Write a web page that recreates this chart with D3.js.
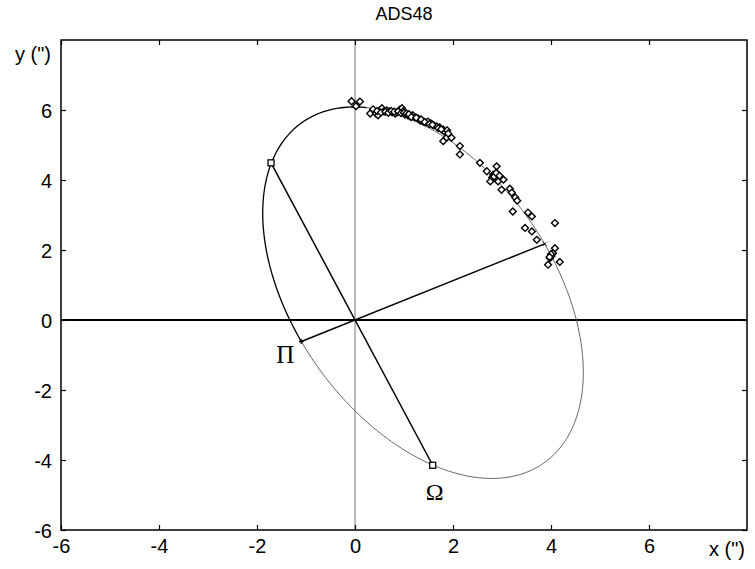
<!DOCTYPE html>
<html><head><meta charset="utf-8">
<script src="https://cdn.jsdelivr.net/npm/d3@7/dist/d3.min.js"></script>
<style>
html,body{margin:0;padding:0;background:#fff;}
svg text{font-family:"Liberation Sans",Arial,sans-serif;fill:#000;}
</style></head>
<body>
<svg id="chart" width="755" height="569"></svg>
<script>
const title = "ADS48";
const xTicks = [-6, -4, -2, 0, 2, 4, 6];
const yTicks = [-6, -4, -2, 0, 2, 4, 6];
const xDomain = [-6, 8];
const yDomain = [-6, 8];
// orbit: position = uVec*(cosE - ecc) + vVec*sinE (relative to primary at origin)
const ecc = 0.559;
const uVec = [-2.483, -1.395];
const vVec = [-2.13, 5.12];
// ascending / descending node points
const nodeX = [-1.714, 1.586];
const nodeY = [4.49, -4.15];
// observations
const obsX = [-0.07,0.10,0.02,0.31,0.37,0.43,0.47,0.51,0.55,0.59,0.65,0.71,0.76,0.82,0.86,0.92,0.96,0.98,1.02,1.08,1.12,1.18,1.22,1.29,1.33,1.39,1.45,1.49,1.55,1.61,1.67,1.73,1.80,1.84,1.88,1.87,1.80,1.97,1.90,2.14,2.14,2.55,2.69,2.89,2.82,2.86,2.90,2.80,2.76,2.92,3.03,2.99,3.16,3.20,3.27,3.31,3.22,3.53,3.61,4.08,3.47,3.61,3.71,4.08,4.04,4.01,3.98,3.94,4.18,
  0.45,0.53,0.62,0.68,0.74,0.80,0.88,0.94,1.00,1.05,1.10,1.15,1.25,1.35,1.42,1.52,1.58,1.70,1.76,2.84,2.88,2.95,4.00,3.97];
const obsY = [6.25,6.24,6.11,5.90,6.02,5.90,5.85,5.99,6.05,5.96,5.99,5.96,5.93,5.90,5.93,6.02,6.05,5.96,5.87,5.85,5.82,5.85,5.79,5.76,5.70,5.67,5.64,5.67,5.62,5.56,5.53,5.50,5.44,5.36,5.42,5.21,5.11,5.21,5.33,4.97,4.73,4.49,4.25,4.39,4.15,4.13,4.18,4.07,3.96,3.96,4.01,3.72,3.75,3.64,3.50,3.41,3.10,3.07,2.96,2.77,2.63,2.53,2.29,2.05,1.91,1.83,1.77,1.58,1.66,
  5.97,5.93,5.95,5.92,5.97,5.95,5.96,5.91,5.92,5.90,5.88,5.80,5.78,5.73,5.66,5.60,5.58,5.48,5.45,4.10,4.20,4.12,1.88,1.80];

const svg = d3.select("#chart");
const x = d3.scaleLinear().domain(xDomain).range([61, 747]);
const y = d3.scaleLinear().domain(yDomain).range([530, 40]);

function orbitPos(E){
  return [uVec[0]*(Math.cos(E)-ecc) + vVec[0]*Math.sin(E),
          uVec[1]*(Math.cos(E)-ecc) + vVec[1]*Math.sin(E)];
}

// zero lines
svg.append("line").attr("x1", x(0)).attr("x2", x(0)).attr("y1", y(yDomain[0])).attr("y2", y(yDomain[1]))
  .attr("stroke", "#777").attr("stroke-width", 1);
svg.append("line").attr("x1", x(xDomain[0])).attr("x2", x(xDomain[1])).attr("y1", y(0)).attr("y2", y(0))
  .attr("stroke", "#000").attr("stroke-width", 2);

// orbit ellipse
const line = d3.line().x(d => x(d[0])).y(d => y(d[1]));
const thinPts = d3.range(110, 361, 1).map(a => orbitPos(a * Math.PI / 180));
const thickPts = d3.range(0, 111, 1).map(a => orbitPos(a * Math.PI / 180));
svg.append("path").attr("d", line(thinPts)).attr("fill", "none").attr("stroke", "#555").attr("stroke-width", 0.9);
svg.append("path").attr("d", line(thickPts)).attr("fill", "none").attr("stroke", "#000").attr("stroke-width", 1.3);

// line of apsides and node line
const peri = orbitPos(0), apo = orbitPos(Math.PI);
svg.append("line").attr("x1", x(peri[0])).attr("y1", y(peri[1])).attr("x2", x(apo[0])).attr("y2", y(apo[1]))
  .attr("stroke", "#000").attr("stroke-width", 1.5);
svg.append("line").attr("x1", x(nodeX[0])).attr("y1", y(nodeY[0])).attr("x2", x(nodeX[1])).attr("y2", y(nodeY[1]))
  .attr("stroke", "#000").attr("stroke-width", 1.5);

// periastron tick & apastron cross
svg.append("path").attr("d", d3.symbol(d3.symbolCross, 12)()).attr("transform", `translate(${x(peri[0])},${y(peri[1])})`).attr("fill", "#000");
svg.append("path").attr("d", d3.symbol(d3.symbolTimes, 14)()).attr("transform", `translate(${x(apo[0])},${y(apo[1])})`).attr("fill", "none").attr("stroke", "#000").attr("stroke-width", 0.8);

// node squares
nodeX.forEach((nx, i) => {
  svg.append("rect").attr("x", x(nx) - 3).attr("y", y(nodeY[i]) - 3).attr("width", 6).attr("height", 6)
    .attr("fill", "#fff").attr("stroke", "#000").attr("stroke-width", 1.3);
});

// observations
const diamond = d3.symbol(d3.symbolDiamond2 || d3.symbolSquare, 30)();
svg.append("g").selectAll("path").data(obsX.map((v, i) => [v, obsY[i]])).join("path")
  .attr("d", diamond)
  .attr("transform", d => `translate(${x(d[0])},${y(d[1])})`)
  .attr("fill", "#fff").attr("stroke", "#000").attr("stroke-width", 1.4);

// labels Π, Ω
svg.append("text").attr("x", x(peri[0]) - 16).attr("y", y(peri[1]) + 21).attr("text-anchor", "middle")
  .style("font-family", "'Liberation Serif','DejaVu Serif',serif").style("font-size", "25px").text("Π");
svg.append("text").attr("x", x(nodeX[1]) + 2).attr("y", y(nodeY[1]) + 35).attr("text-anchor", "middle")
  .style("font-family", "'Liberation Serif','DejaVu Serif',serif").style("font-size", "24px").text("Ω");

// frame
svg.append("rect").attr("x", x(xDomain[0])).attr("y", y(yDomain[1])).attr("width", x(xDomain[1]) - x(xDomain[0]))
  .attr("height", y(yDomain[0]) - y(yDomain[1])).attr("fill", "none").attr("stroke", "#000").attr("stroke-width", 1.5);

// axes with inward ticks
const fmt = d => String(d);
const axB = svg.append("g").attr("transform", `translate(0,${y(yDomain[0])})`)
  .call(d3.axisBottom(x).tickValues(xTicks).tickSizeInner(-5).tickSizeOuter(0).tickPadding(9).tickFormat(fmt));
const axT = svg.append("g").attr("transform", `translate(0,${y(yDomain[1])})`)
  .call(d3.axisTop(x).tickValues(xTicks).tickSizeInner(-5).tickSizeOuter(0).tickFormat(""));
const axL = svg.append("g").attr("transform", `translate(${x(xDomain[0])},0)`)
  .call(d3.axisLeft(y).tickValues(yTicks).tickSizeInner(-5).tickSizeOuter(0).tickPadding(9).tickFormat(fmt));
const axR = svg.append("g").attr("transform", `translate(${x(xDomain[1])},0)`)
  .call(d3.axisRight(y).tickValues(yTicks).tickSizeInner(-5).tickSizeOuter(0).tickFormat(""));
[axB, axT, axL, axR].forEach(g => {
  g.select(".domain").remove();
  g.selectAll(".tick line").attr("stroke", "#000").attr("stroke-width", 1.2);
  g.selectAll("text").style("font-family", "'Liberation Sans',Arial,sans-serif").style("font-size", "20px").attr("fill", "#000");
});
axB.selectAll("text").attr("dy", "0.71em");
axL.selectAll("text").attr("dy", "0.35em");

// axis titles and title
svg.append("text").attr("x", 33).attr("y", 61).attr("text-anchor", "middle").style("font-size", "20px").text("y (\")");
svg.append("text").attr("x", 727).attr("y", 556).attr("text-anchor", "middle").style("font-size", "20px").text("x (\")");
svg.append("text").attr("x", 404).attr("y", 20).attr("text-anchor", "middle").style("font-size", "18px").text(title);
</script>
</body></html>
